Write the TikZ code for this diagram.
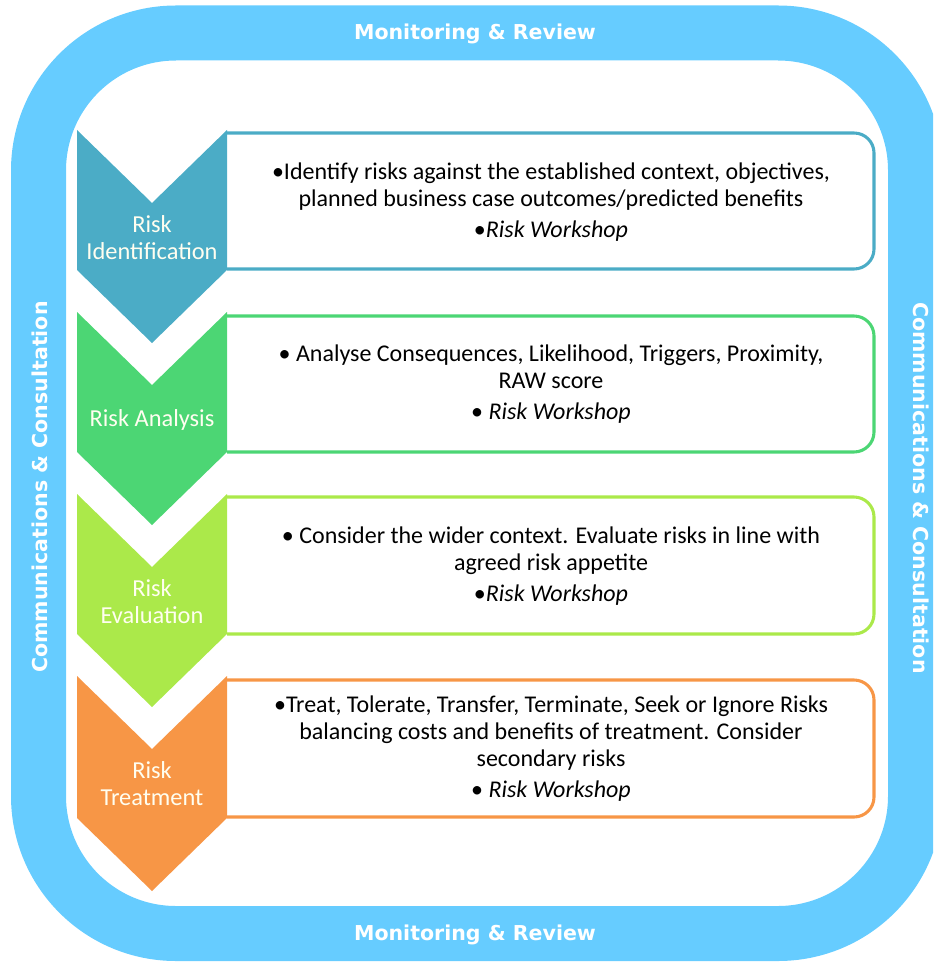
\documentclass[tikz,border=0pt]{standalone}
\usepackage{fontspec}
\setmainfont{Carlito}
\newfontfamily\bandfont{DejaVu Sans}
\usepackage{xcolor}
\definecolor{bandblue}{HTML}{66CCFF}
\definecolor{idteal}{HTML}{4BACC6}
\definecolor{angreen}{HTML}{4CD674}
\definecolor{evlime}{HTML}{ABE94A}
\definecolor{trorange}{HTML}{F79646}

\begin{document}
\begin{tikzpicture}[x=0.75pt, y=-0.75pt,
    band/.style={font=\bandfont\bfseries\fontsize{15.4}{18}\selectfont, text=white},
    chev/.style={font=\fontsize{18.3}{20.25}\selectfont, text=white!94!yellow, align=center},
    body/.style={font=\fontsize{18}{20.25}\selectfont, align=center, text=black},
    frame/.style={line width=2.3pt, rounded corners=15pt}]
  \useasboundingbox (0,0) rectangle (933,962);
  \clip (0,0) rectangle (933,962);
  %--- Outer ring
  \draw[bandblue, line width=41.25pt, rounded corners=103.1pt] (38.5,33) rectangle (915.5,933.5);
  \node[band] (mrtop) at (475,34) {Monitoring \& Review};
  \node[band] (mrbot) at (475,935) {Monitoring \& Review};
  \node[band, rotate=90] (ccleft) at (40,487) {Communications \& Consultation};
  \node[band, rotate=-90] (ccright) at (921,488) {Communications \& Consultation};
  %--- Identification
  \draw[frame, idteal] (227,133) -- (874,133) -- (874,269) -- (227,269);
  \fill[idteal] (77,130) -- (152,203) -- (227,130) -- (227,270) -- (152,343) -- (77,270) -- cycle;
  \node[chev] (ident) at (152,238) {Risk\\Identification};
  \node[body] (identtxt) at (551,202) {\textbullet Identify risks against the established context, objectives,\\
    planned business case outcomes/predicted benefits\\[3pt] \textbullet\textit{Risk Workshop}};
  %--- Analysis
  \draw[frame, angreen] (227,316) -- (874,316) -- (874,452) -- (227,452);
  \fill[angreen] (77,312) -- (152,385) -- (227,312) -- (227,452) -- (152,525) -- (77,452) -- cycle;
  \node[chev] (analys) at (152,420) {Risk Analysis};
  \node[body] (analystxt) at (551,384) {\textbullet{} Analyse Consequences, Likelihood, Triggers, Proximity,\\
    RAW score\\[3pt] \textbullet{} \textit{Risk Workshop}};
  %--- Evaluation
  \draw[frame, evlime] (227,497) -- (874,497) -- (874,634) -- (227,634);
  \fill[evlime] (77,494) -- (152,567) -- (227,494) -- (227,634) -- (152,707) -- (77,634) -- cycle;
  \node[chev] (evalu) at (152,602) {Risk\\Evaluation};
  \node[body] (evalutxt) at (551,566) {\textbullet{} Consider the wider context. Evaluate risks in line with\\
    agreed risk appetite\\[3pt] \textbullet\textit{Risk Workshop}};
  %--- Treatment
  \draw[frame, trorange] (227,680) -- (874,680) -- (874,817) -- (227,817);
  \fill[trorange] (77,676) -- (152,749) -- (227,676) -- (227,818) -- (152,891) -- (77,818) -- cycle;
  \node[chev] (treat) at (152,784) {Risk\\Treatment};
  \node[body] (treattxt) at (551,749) {\textbullet Treat, Tolerate, Transfer, Terminate, Seek or Ignore Risks\\
    balancing costs and benefits of treatment. Consider\\ secondary risks\\[3pt]
    \textbullet{} \textit{Risk Workshop}};
\end{tikzpicture}
\end{document}
